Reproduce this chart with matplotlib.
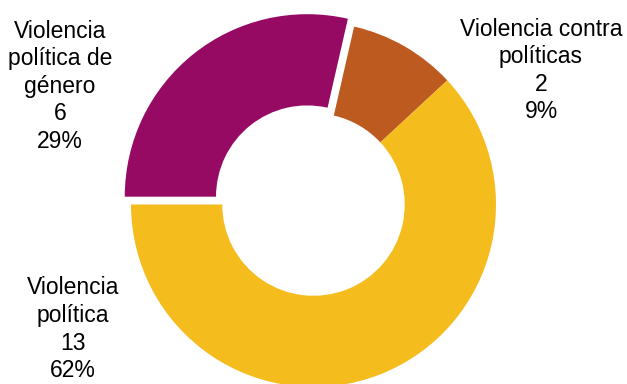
import matplotlib
matplotlib.use("Agg")
import matplotlib.pyplot as plt

categories = ["Violencia contra\npolíticas", "Violencia\npolítica", "Violencia\npolítica de\ngénero"]
values = [2, 13, 6]
pct_labels = ["9%", "62%", "29%"]
colors = ["#BC5A1F", "#F5BC1E", "#960A64"]
explode = [0, 0, 10]

W, H = 627, 384
fig = plt.figure(figsize=(W / 100, H / 100), dpi=100)
ax = fig.add_axes([0, 0, 1, 1])

total = sum(values)
# purple/yellow border lies at 9 o'clock; first slice starts where purple ends
start_cw_from_top = 270 + 360 * values[2] / total - 360
startangle = 90 - start_cw_from_top

cx, cy, R = 313.5, H - 204.5, 182.5
ax.pie(values, colors=colors, explode=explode, startangle=startangle,
       counterclock=False, center=(cx, cy), radius=R,
       wedgeprops=dict(width=R * 0.5, linewidth=0))
ax.set_xlim(0, W)
ax.set_ylim(0, H)
ax.set_aspect("equal")
ax.axis("off")

font = dict(family=["Liberation Sans", "DejaVu Sans"], fontsize=16.5,
            color="#000000", ha="center", va="baseline",
            multialignment="center", linespacing=1.25)

# (x centre, baseline of last line) in pixels from top-left
label_pos = [(541, 118.5), (73, 377), (60, 148)]
for cat, v, p, (x, y) in zip(categories, values, pct_labels, label_pos):
    ax.text(x, H - y, "{}\n{}\n{}".format(cat, v, p), **font)

fig.savefig("out.png", dpi=100)
